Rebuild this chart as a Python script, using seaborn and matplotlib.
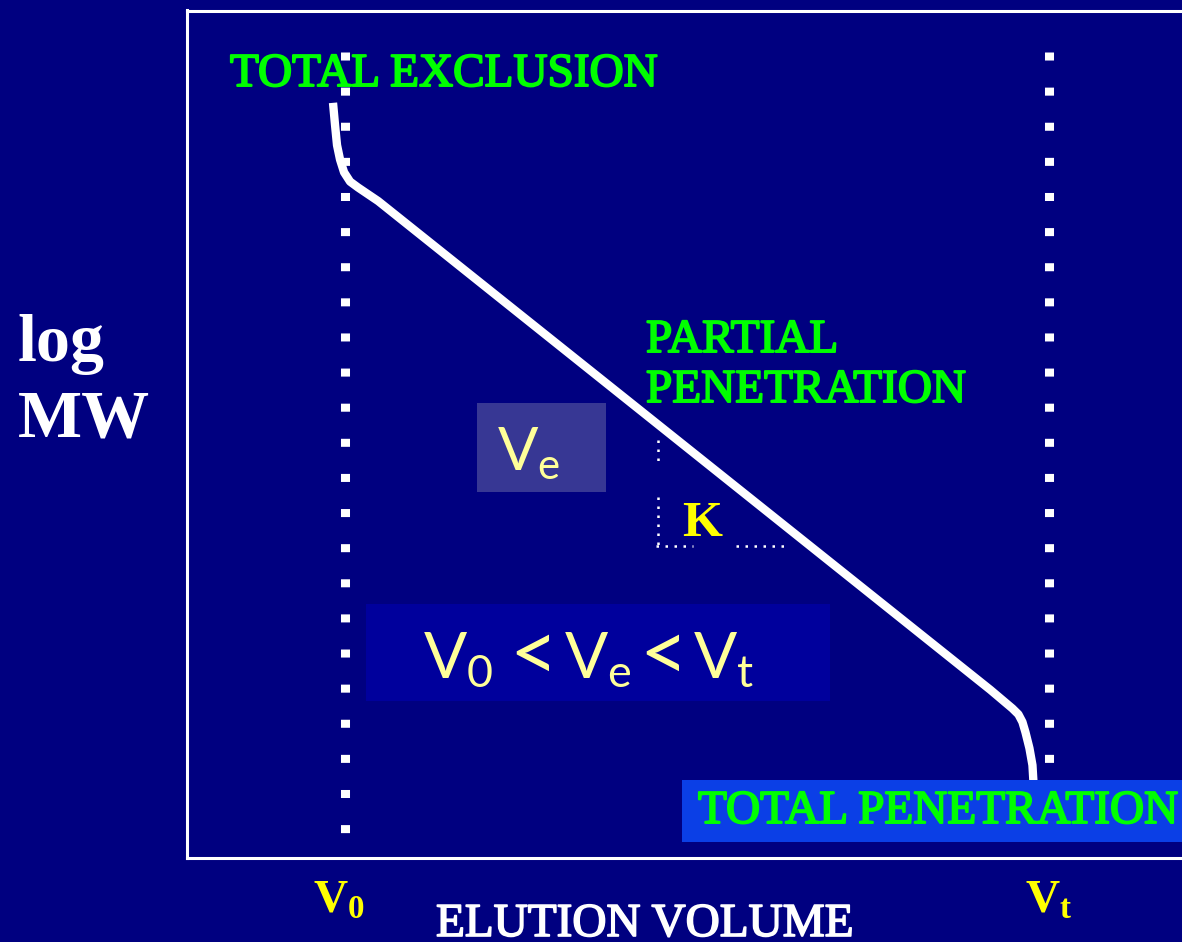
import matplotlib
matplotlib.use("Agg")
import matplotlib.pyplot as plt
import matplotlib.patheffects as pe
from matplotlib.patches import Rectangle
import numpy as np
import pandas as pd
import seaborn as sns

# Calibration curve: elution volume vs. log molecular weight (arbitrary units)
elution_volume = [14.6, 14.8, 15.0, 15.3, 15.7, 16.3, 17.1, 18.1, 19.1,
                  80.1, 81.4, 82.3, 82.9, 83.3, 83.6, 84.0, 84.3, 84.4]
log_mw = [89.1, 86.5, 84.1, 82.4, 80.9, 79.8, 79.1, 78.3, 77.5,
          19.8, 18.5, 17.6, 16.9, 16.0, 14.8, 12.9, 10.9, 8.9]

# Void volume and total column volume
v0 = 15.75
vt = 85.9
marker_span = [95.1, 2.9]

# Dotted construction lines marking K
k_vertical_x = 47.0
k_vertical_segments = [[49.3, 46.7], [42.6, 36.8]]
k_horizontal_y = 36.8
k_horizontal_segments = [[46.8, 50.5], [54.8, 60.1]]

W, H = 1182, 942
BG = "#000080"

sns.set_style("dark", rc={"axes.facecolor": BG, "figure.facecolor": BG,
                          "axes.edgecolor": "white", "axes.grid": False})
plt.rcParams["mathtext.fontset"] = "custom"
plt.rcParams["mathtext.rm"] = "Liberation Serif"
plt.rcParams["mathtext.bf"] = "Liberation Serif:bold"
plt.rcParams["mathtext.it"] = "Liberation Serif:italic"
plt.rcParams["mathtext.sf"] = "Lato"

fig = plt.figure(figsize=(W / 100, H / 100), dpi=100)
fig.patch.set_facecolor(BG)

left, right, top, bottom = 186.5, 1190.0, 10.5, 857.5
ax = fig.add_axes([left / W, 1 - bottom / H, (right - left) / W, (bottom - top) / H])
ax.set_facecolor(BG)
ax.set_xlim(0, 100)
ax.set_ylim(0, 100)
ax.set_xticks([])
ax.set_yticks([])
for side in ["left", "top", "bottom"]:
    ax.spines[side].set_color("white")
    ax.spines[side].set_linewidth(2.2)
ax.spines["right"].set_visible(False)

# V0 and Vt markers
for v in (v0, vt):
    ax.plot([v, v], marker_span, color="white", linewidth=6.5,
            linestyle=(0, (0.89, 3.0)), dash_capstyle="butt", zorder=2)

# K construction lines
for seg in k_vertical_segments:
    ax.plot([k_vertical_x, k_vertical_x], seg, color="white", linewidth=1.8,
            linestyle=(0, (1, 2.6)), dash_capstyle="butt", zorder=2)
for seg in k_horizontal_segments:
    ax.plot(seg, [k_horizontal_y, k_horizontal_y], color="white", linewidth=1.8,
            linestyle=(0, (1, 2.6)), dash_capstyle="butt", zorder=2)

# Calibration curve
curve = pd.DataFrame({"elution": elution_volume, "logmw": log_mw})
sns.lineplot(data=curve, x="elution", y="logmw", sort=False, color="white",
             linewidth=6.0, ax=ax, zorder=3, solid_joinstyle="round",
             solid_capstyle="butt")
ax.set_xlabel("")
ax.set_ylabel("")


def fx(p):
    return p / W


def fy(p):
    return 1 - p / H


def box(x0, y0, x1, y1, color):
    fig.add_artist(Rectangle((fx(x0), fy(y1)), fx(x1) - fx(x0), fy(y0) - fy(y1),
                             transform=fig.transFigure, facecolor=color,
                             edgecolor="none", zorder=5))


box(477, 403, 606, 492, "#373794")
box(366, 604, 830, 701, "#00009C")
box(682, 780, 1200, 842, "#0B3FE6")

green = "#00FF00"
serif = "Liberation Serif"


def heavy(color, width=1.4):
    return [pe.withStroke(linewidth=width, foreground=color)]


for px, py, label in [(230, 86, "TOTAL EXCLUSION"), (646, 352, "PARTIAL"),
                      (646, 402, "PENETRATION"), (698, 823, "TOTAL PENETRATION")]:
    fig.text(fx(px), fy(py), label, color=green, family=serif, fontsize=34,
             ha="left", va="baseline", zorder=6, path_effects=heavy(green))

fig.text(fx(18), fy(361), "log", color="white", family=serif, weight="bold",
         fontsize=49, ha="left", va="baseline")
fig.text(fx(18), fy(437), "MW", color="white", family=serif, weight="bold",
         fontsize=49, ha="left", va="baseline")
fig.text(fx(436), fy(936), "ELUTION VOLUME", color="white", family=serif,
         fontsize=34, ha="left", va="baseline", path_effects=heavy("white", 1.2))

yellow = "#FFFF00"
fig.text(fx(313), fy(913), r"$\mathbf{V_0}$", color=yellow, fontsize=34,
         ha="left", va="baseline")
fig.text(fx(1025), fy(913), r"$\mathbf{V_t}$", color=yellow, fontsize=34,
         ha="left", va="baseline")
fig.text(fx(682), fy(536), "K", color=yellow, family=serif, weight="bold",
         fontsize=37, ha="left", va="baseline", zorder=6)

pale = "#FFFF99"
fig.text(fx(497), fy(471), r"$\mathsf{V_e}$", color=pale, fontsize=43,
         ha="left", va="baseline", zorder=6)

# V0 < Ve < Vt, set piece by piece
for px, label in [(423, r"$\mathsf{V_0}$"), (564, r"$\mathsf{V_e}$"),
                  (693, r"$\mathsf{V_t}$")]:
    fig.text(fx(px), fy(678), label, color=pale, fontsize=46,
             ha="left", va="baseline", zorder=6)
for px in (523.5, 654):
    fig.text(fx(px), fy(656.5), r"$\mathsf{<}$", color=pale, fontsize=60,
             ha="center", va="center", zorder=6)

fig.savefig("out.png", dpi=100, facecolor=BG)
